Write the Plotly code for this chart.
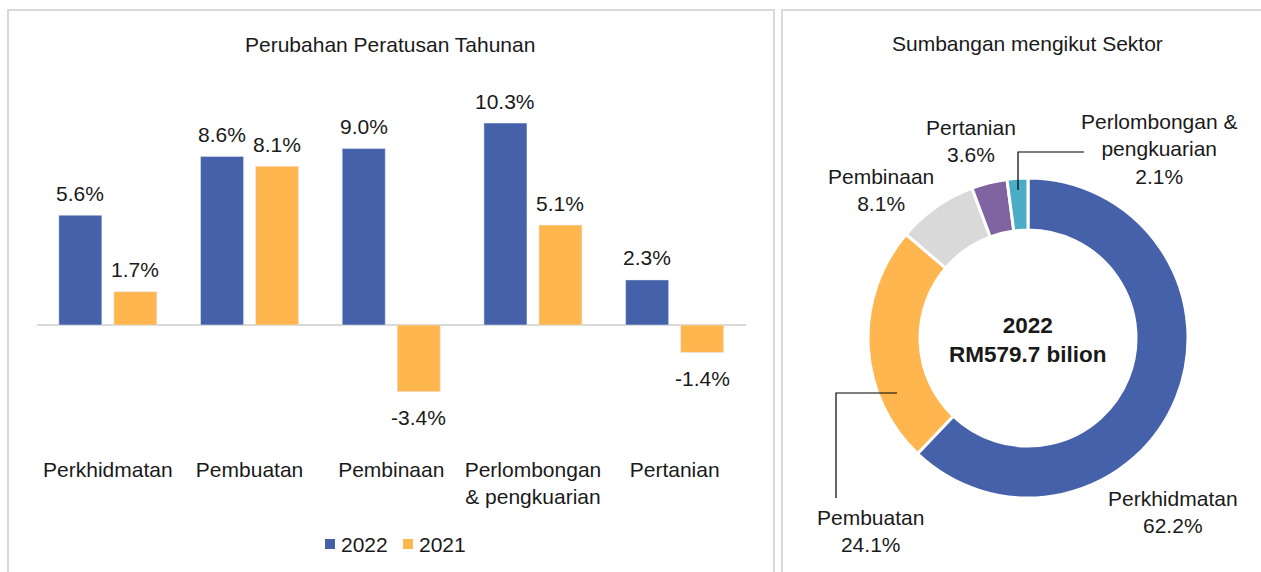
import plotly.graph_objects as go

# ---------------- data ----------------
categories = ["Perkhidmatan", "Pembuatan", "Pembinaan", "Perlombongan<br>& pengkuarian", "Pertanian"]
series_names = ["2022", "2021"]
growth_2022 = [5.6, 8.6, 9.0, 10.3, 2.3]
growth_2021 = [1.7, 8.1, -3.4, 5.1, -1.4]

pie_labels = ["Perkhidmatan", "Pembuatan", "Pembinaan", "Pertanian", "Perlombongan & pengkuarian"]
pie_values = [62.2, 24.1, 8.1, 3.6, 2.1]

W, H = 1261, 572
BLUE = "#4561A9"
ORANGE = "#FFB64F"
PIE_COLORS = [BLUE, ORANGE, "#D9D9D9", "#8064A2", "#4BACC6"]
TXT = "#1a1a1a"
FONT = "Liberation Sans, Arial, sans-serif"
FS = 21


def px(x):
    return x / W


def py(y):
    return 1 - y / H


# bar geometry (in category units)
BAR_W = 0.3035
GAP = 0.0847
offsets = [-(BAR_W + GAP / 2), GAP / 2]
colors = [BLUE, ORANGE]
series = [growth_2022, growth_2021]

fig = go.Figure()
idx = list(range(len(categories)))
for name, vals, col, off in zip(series_names, series, colors, offsets):
    fig.add_trace(go.Bar(
        x=idx, y=vals, name=name, marker_color=col, width=BAR_W, offset=off,
        showlegend=False, hovertemplate="%{y:.1f}%<extra>" + name + "</extra>",
    ))

# donut
fig.add_trace(go.Pie(
    labels=pie_labels, values=pie_values, sort=False, direction="clockwise",
    rotation=0, hole=0.675, marker=dict(colors=PIE_COLORS, line=dict(color="white", width=3)),
    textinfo="none", showlegend=False, hoverinfo="label+percent",
    domain=dict(x=[px(868), px(1188)], y=[py(498), py(178)]),
))

# y scale: baseline at 325px, 19.6 px per %
top_px, bot_px, base_px, ppu = 80, 455, 325, 19.6
fig.update_layout(
    width=W, height=H, margin=dict(l=0, r=0, t=0, b=0),
    paper_bgcolor="white", plot_bgcolor="white",
    font=dict(family=FONT, size=FS, color=TXT),
    xaxis=dict(domain=[px(37), px(745.5)], range=[-0.5, len(categories) - 0.5],
               tickmode="array", tickvals=idx, ticktext=categories,
               showgrid=False, showline=False, zeroline=False, ticks="",
               tickfont=dict(size=FS, color=TXT)),
    yaxis=dict(domain=[py(bot_px), py(top_px)],
               range=[-(bot_px - base_px) / ppu, (base_px - top_px) / ppu],
               showgrid=False, showticklabels=False, zeroline=True,
               zerolinecolor="#D9D9D9", zerolinewidth=2),
    showlegend=False,
)

shapes = [
    # panel borders
    dict(type="rect", xref="paper", yref="paper", x0=px(8), x1=px(774), y0=py(585), y1=py(10),
         line=dict(color="#D9D9D9", width=2)),
    dict(type="rect", xref="paper", yref="paper", x0=px(782), x1=px(1275), y0=py(585), y1=py(10),
         line=dict(color="#D9D9D9", width=2)),
    # leader lines
    dict(type="path", xref="paper", yref="paper",
         path=f"M {px(1018)},{py(190)} L {px(1018)},{py(152)} L {px(1084)},{py(152)}",
         line=dict(color="#000000", width=1.2)),
    dict(type="path", xref="paper", yref="paper",
         path=f"M {px(897)},{py(393)} L {px(836)},{py(393)} L {px(836)},{py(498)}",
         line=dict(color="#000000", width=1.2)),
]

ann = []

# bar value labels, located at each bar's centre via the axis scales
for vals, off in zip(series, offsets):
    for i, v in zip(idx, vals):
        ann.append(dict(text=f"{v:.1f}%", xref="x", yref="y", x=i + off + BAR_W / 2, y=v,
                        yshift=22 if v >= 0 else -26, xanchor="center", yanchor="middle",
                        showarrow=False, font=dict(size=FS, color=TXT, family=FONT)))


def add(text, x, y, size=FS, bold=False, xanchor="center"):
    ann.append(dict(text=f"<b>{text}</b>" if bold else text, xref="paper", yref="paper",
                    x=px(x), y=py(y), xanchor=xanchor, yanchor="middle", showarrow=False,
                    font=dict(size=size, color=TXT, family=FONT), align="center"))


add("Perubahan Peratusan Tahunan", 390, 45)
add("Sumbangan mengikut Sektor", 1027, 43)
add(f"Perlombongan &<br>pengkuarian<br>{pie_values[4]}%", 1159, 149)
add(f"Pertanian<br>{pie_values[3]}%", 971, 141)
add(f"Pembinaan<br>{pie_values[2]}%", 881, 190)
add(f"Pembuatan<br>{pie_values[1]}%", 870, 531)
add(f"Perkhidmatan<br>{pie_values[0]}%", 1173, 512)
add("2022<br>RM579.7 bilion", 1028, 340, size=22.5, bold=True)

# legend (manual, compact like the reference)
leg_x = [325, 403]
for name, col, lx in zip(series_names, colors, leg_x):
    shapes.append(dict(type="rect", xref="paper", yref="paper", x0=px(lx), x1=px(lx + 10),
                       y0=py(549), y1=py(539), fillcolor=col, line=dict(width=0)))
    add(name, lx + 14, 544, xanchor="left")

fig.update_layout(shapes=shapes, annotations=ann)

fig.write_html("out.html", config={"displayModeBar": False},
               post_script="document.body.style.margin='0';document.body.style.overflow='hidden';")
